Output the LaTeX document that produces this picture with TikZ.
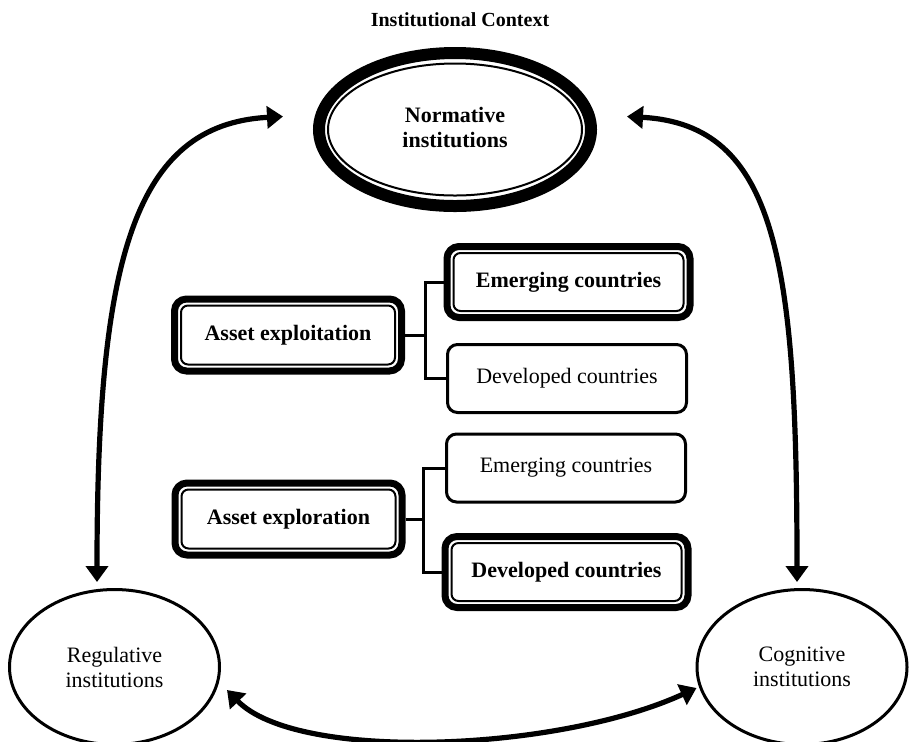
\documentclass[tikz,border=0pt]{standalone}
\usepackage{fontspec}
\setmainfont{Liberation Serif}
\usetikzlibrary{positioning, shapes.geometric, arrows.meta, calc}

\begin{document}
\begin{tikzpicture}[x=0.5pt, y=-0.5pt,
    txt/.style={font=\fontsize{11}{12.5}\selectfont, align=center},
    inst/.style={txt, draw, ellipse, line width=1.5pt, inner sep=0pt, minimum width=105pt, minimum height=77.5pt},
    mainbox/.style={txt, font=\bfseries\fontsize{11}{12.5}\selectfont, draw, line width=3.5pt, rounded corners=6pt, inner sep=0pt, minimum width=113.5pt, minimum height=36pt},
    hibox/.style={mainbox, minimum width=121.5pt, minimum height=35.5pt},
    lobox/.style={txt, draw, line width=1.5pt, rounded corners=5pt, inner sep=0pt, minimum width=119.5pt, minimum height=34pt},
    inner/.style={line width=1pt, rounded corners=3.5pt},
    link/.style={line width=1.5pt},
    bigarrow/.style={line width=2.6pt, {Triangle[length=8pt,width=11pt]}-{Triangle[length=8pt,width=11pt]}}]
    \useasboundingbox (0,0) rectangle (909,741);

    % title and the three institutions
    \node[font=\bfseries\fontsize{10}{12}\selectfont] (title) at (460,20) {Institutional Context};
    \node[font=\bfseries\fontsize{11}{12.5}\selectfont, draw, ellipse, line width=6pt, inner sep=0pt,
          minimum width=136pt, minimum height=76.5pt] (norm) at (455,129.5)
          {\raisebox{-3pt}{\begin{tabular}{@{}c@{}}Normative\\institutions\end{tabular}}};
    \draw[line width=1pt] (norm.center) ellipse [x radius=127, y radius=66];
    \node[inst] (reg) at (114.5,667) {Regulative\\institutions};
    \node[inst] (cog) at (802,667) {Cognitive\\institutions};

    % asset boxes
    \node[mainbox] (exploit) at (288,335) {Asset exploitation};
    \node[mainbox] (explore) at (288.5,519) {Asset exploration};
    \node[hibox] (emergA) at (568.5,282) {Emerging countries};
    \node[lobox] (devA) at (567,378.5) {Developed countries};
    \node[lobox] (emergB) at (566,468) {Emerging countries};
    \node[hibox] (devB) at (566.5,572) {Developed countries};

    % inner lines of the double boxes
    \foreach \b in {exploit, explore, emergA, devB}
        \draw[inner] ([shift={(5pt,5pt)}]\b.south west) rectangle ([shift={(-5pt,-5pt)}]\b.north east);

    % tree links
    \draw[link] (exploit.east) -- ++(20,0) |- (emergA.west);
    \draw[link] (exploit.east) -- ++(20,0) |- (devA.west);
    \draw[link] (explore.east) -- ++(18,0) |- (emergB.west);
    \draw[link] (explore.east) -- ++(18,0) |- (devB.west);

    % curved arrows between the institutions
    \draw[bigarrow] ([shift={(-8.75pt,3pt)}]reg.north) .. controls +(0,-320) and +(-150,8) .. ([shift={(-15pt,6.5pt)}]norm.west);
    \draw[bigarrow] ([shift={(-2.5pt,3pt)}]cog.north) .. controls +(0,-320) and +(150,8) .. ([shift={(15pt,6.5pt)}]norm.east);
    \draw[bigarrow] ([shift={(3pt,-11.5pt)}]reg.east) .. controls +(70,72) and +(-140,64) .. ([shift={(0.5pt,-10.5pt)}]cog.west);
\end{tikzpicture}
\end{document}
